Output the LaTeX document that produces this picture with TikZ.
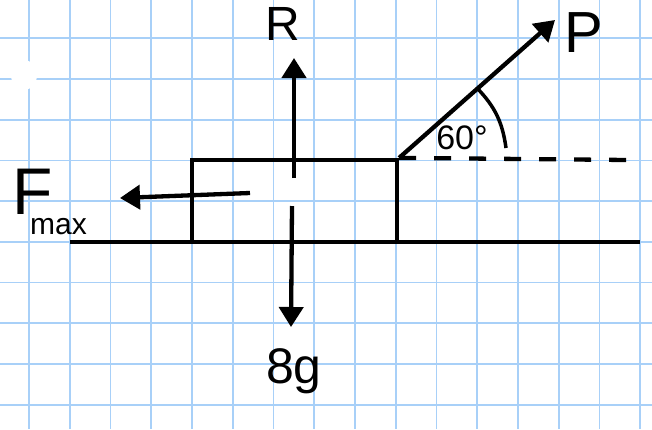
\documentclass[tikz,border=0pt]{standalone}
\usepackage{fontspec}
\setmainfont{Liberation Sans}
\usepackage{xcolor}
\usetikzlibrary{arrows.meta,positioning,calc}
\definecolor{gridblue}{HTML}{A8D0F8}

\begin{document}
\begin{tikzpicture}[
    x=1pt, y=-1pt,
    gridline/.style={draw=gridblue, line width=1.8pt},
    block/.style={rectangle, draw, line width=4.3pt, minimum width=205pt, minimum height=82pt, inner sep=0pt},
    force/.style={-{Triangle[length=20pt,width=24pt]}, line width=4.3pt},
    lbl/.style={inner sep=0pt, font=\fontsize{48}{48}\selectfont}
]

\useasboundingbox[fill=white] (0,0) rectangle (652,429);
\clip (0,0) rectangle (652,429);
\foreach \i in {0,...,15} \draw[gridline] (29+40.75*\i,0) -- (29+40.75*\i,429);
\foreach \j in {1,...,10} \draw[gridline] (0,-2.4+40.7*\j) -- (652,-2.4+40.7*\j);
\fill[white] (24,75) ellipse[x radius=13pt, y radius=15pt];

\node[block] (block) at (294.5,201) {};
\coordinate (gL) at (70,242);
\coordinate (gR) at (640,242);
\coordinate (dashEnd) at (628,160);
\coordinate (Rfoot) at (294,178);
\coordinate (Rtip) at (294,58);
\coordinate (Wfoot) at (292,206);
\coordinate (Wtip) at (291,327);
\coordinate (Ptip) at (555,20);
\coordinate (Ffoot) at (250,193);
\coordinate (Ftip) at (120,198);
\coordinate (arcA) at (477,88);
\coordinate (arcB) at (506,148);

\draw[line width=4.3pt] (gL) -- (gR);
\draw[line width=4.3pt, dash pattern=on 17pt off 18pt] (block.north east) -- (dashEnd);
\draw[force] (Rfoot) -- (Rtip);
\draw[force] (Wfoot) -- (Wtip);
\draw[force] (block.north east) -- (Ptip);
\draw[force] (Ffoot) -- (Ftip);
\draw[line width=3.5pt] (arcA) to[bend left=18] (arcB);

\node[lbl] (Rlbl) at (283,24) {R};
\node[lbl, font=\fontsize{58}{58}\selectfont] (Plbl) at (584,33) {P};
\node[lbl, anchor=base, font=\fontsize{50}{50}\selectfont] (Wlbl) at (294,383) {8g};
\node[lbl, font=\fontsize{34}{34}\selectfont] (angle) at (462,138) {60°};
\node[lbl, anchor=base west, font=\fontsize{66}{66}\selectfont] (Flbl) at (12,214) {F};
\node[lbl, anchor=base west, font=\fontsize{30}{30}\selectfont] (maxlbl) at (30,234) {max};

\end{tikzpicture}
\end{document}
